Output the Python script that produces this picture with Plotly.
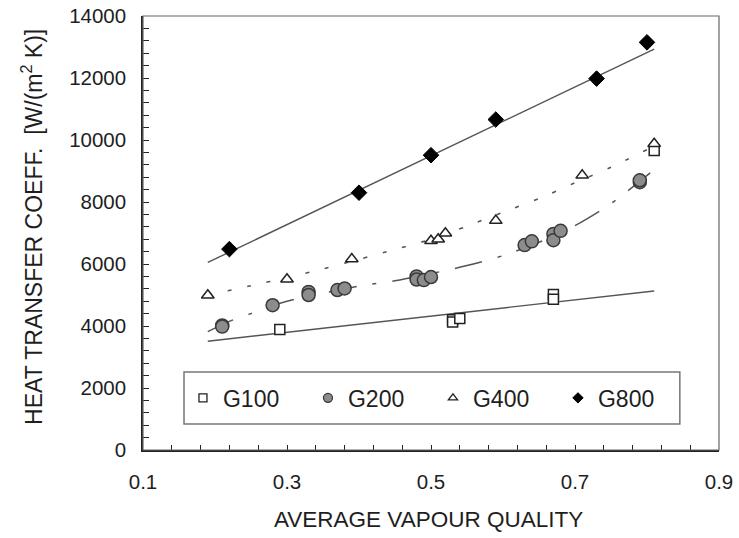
import plotly.graph_objects as go

# ---------------- data ----------------
g100_x = [0.29, 0.53, 0.53, 0.54, 0.67, 0.67, 0.81]
g100_y = [3890, 4200, 4130, 4240, 5020, 4860, 9660]

g200_x = [0.21, 0.21, 0.28, 0.33, 0.33, 0.37, 0.38, 0.48, 0.48, 0.49, 0.50,
          0.63, 0.64, 0.67, 0.67, 0.68, 0.79, 0.79]
g200_y = [4020, 3980, 4670, 5100, 5000, 5160, 5210, 5600, 5500, 5480, 5580,
          6610, 6730, 6970, 6770, 7070, 8640, 8700]

g400_x = [0.19, 0.30, 0.39, 0.50, 0.51, 0.52, 0.59, 0.71, 0.81]
g400_y = [4990, 5510, 6160, 6750, 6800, 6990, 7400, 8860, 9880]

g800_x = [0.22, 0.40, 0.50, 0.59, 0.73, 0.80]
g800_y = [6480, 8300, 9510, 10660, 11980, 13150]

# fitted curves
fit100_x = [0.19, 0.81]
fit100_y = [3510, 5130]

fit800_x = [0.19, 0.81]
fit800_y = [6050, 12930]

fit200_x = [0.19, 0.22, 0.25, 0.28, 0.30, 0.35, 0.40, 0.45, 0.50, 0.55, 0.60,
            0.65, 0.70, 0.75, 0.805]
fit200_y = [3820, 4150, 4400, 4660, 4800, 5055, 5290, 5460, 5690, 5950, 6270,
            6700, 7240, 7950, 8950]

fit400_x = [0.19, 0.25, 0.30, 0.35, 0.40, 0.45, 0.50, 0.55, 0.60, 0.65, 0.70,
            0.75, 0.80]
fit400_y = [5000, 5300, 5560, 5840, 6150, 6470, 6800, 7220, 7670, 8110, 8620,
            9120, 9690]

series_names = ["G100", "G200", "G400", "G800"]
x_tickvals = [0.1, 0.3, 0.5, 0.7, 0.9]
x_ticktext = ["0.1", "0.3", "0.5", "0.7", "0.9"]
y_tickvals = [0, 2000, 4000, 6000, 8000, 10000, 12000, 14000]
y_ticktext = ["0", "2000", "4000", "6000", "8000", "10000", "12000", "14000"]

FONT = "Liberation Sans, Arial, sans-serif"
TXT = "#1e1e1e"
LINE = "#555555"

fig = go.Figure()

# fit lines
fig.add_trace(go.Scatter(x=fit800_x, y=fit800_y, mode="lines",
                         line=dict(color=LINE, width=1.4), showlegend=False, hoverinfo="skip"))
fig.add_trace(go.Scatter(x=fit100_x, y=fit100_y, mode="lines",
                         line=dict(color=LINE, width=1.4), showlegend=False, hoverinfo="skip"))
fig.add_trace(go.Scatter(x=fit400_x, y=fit400_y, mode="lines",
                         line=dict(color=LINE, width=1.6, dash="4px,16px", shape="spline", smoothing=0.8),
                         showlegend=False, hoverinfo="skip"))
fig.add_trace(go.Scatter(x=fit200_x, y=fit200_y, mode="lines",
                         line=dict(color=LINE, width=1.5, dash="28px,16px,4px,16px", shape="spline", smoothing=0.8),
                         showlegend=False, hoverinfo="skip"))

# data markers
m100 = dict(symbol="square", size=10, color="white", line=dict(color="#222", width=1.5))
m200 = dict(symbol="circle", size=13, color="#8c8c8c", line=dict(color="#3a3a3a", width=1.5))
m400 = dict(symbol="triangle-up", size=11, color="white", line=dict(color="#222", width=1.5))
m800 = dict(symbol="diamond", size=12, color="black", line=dict(color="black", width=1))

fig.add_trace(go.Scatter(x=g100_x, y=g100_y, mode="markers", marker=m100, showlegend=False))
fig.add_trace(go.Scatter(x=g200_x, y=g200_y, mode="markers", marker=m200, showlegend=False))
fig.add_trace(go.Scatter(x=g400_x, y=g400_y, mode="markers", marker=m400, showlegend=False))
fig.add_trace(go.Scatter(x=g800_x, y=g800_y, mode="markers", marker=m800, showlegend=False))

# legend entries (small symbols as in the reference)
leg_markers = [
    dict(symbol="square", size=8, color="white", line=dict(color="#222", width=1.3)),
    dict(symbol="circle", size=9, color="#8c8c8c", line=dict(color="#3a3a3a", width=1.3)),
    dict(symbol="triangle-up", size=8, color="white", line=dict(color="#222", width=1.3)),
    dict(symbol="diamond", size=8, color="black", line=dict(color="black", width=1)),
]
for name, mk in zip(series_names, leg_markers):
    fig.add_trace(go.Scatter(x=[None], y=[None], mode="markers", marker=mk, name=name,
                             showlegend=True))

# plot area: x 143..719, y 16..450 px
fig.update_layout(
    template="none",
    width=739, height=538,
    margin=dict(l=143, r=20, t=16, b=88, pad=0, autoexpand=False),
    paper_bgcolor="white", plot_bgcolor="white",
    font=dict(family=FONT, color=TXT, size=20.5),
    showlegend=True,
    legend=dict(orientation="h", x=0.0694, xanchor="left", y=0.12, yanchor="middle",
                bgcolor="rgba(0,0,0,0)", borderwidth=0, entrywidth=80,
                entrywidthmode="pixels", font=dict(size=23, color=TXT, family=FONT),
                itemclick=False),
    xaxis=dict(range=[0.1, 0.9], tickvals=x_tickvals, ticktext=x_ticktext, automargin=False,
               showgrid=False, zeroline=False, showline=True, linecolor="#222", linewidth=1.5,
               ticks="inside", ticklen=5, tickwidth=1.3, tickcolor="#222",
               minor=dict(tick0=0.1, dtick=0.04, ticks="inside", ticklen=5, tickwidth=1.3,
                          tickcolor="#222", showgrid=False),
               tickfont=dict(size=20.5, color=TXT, family=FONT), ticklabelstandoff=13),
    yaxis=dict(range=[0, 14000], tickvals=y_tickvals, ticktext=y_ticktext, automargin=False,
               showgrid=False, zeroline=False, showline=True, linecolor="#222", linewidth=1.5,
               ticks="inside", ticklen=6, tickwidth=1.3, tickcolor="#222",
               minor=dict(tick0=0, dtick=400, ticks="inside", ticklen=6, tickwidth=1.3,
                          tickcolor="#222", showgrid=False),
               tickfont=dict(size=20.5, color=TXT, family=FONT), ticklabelstandoff=11),
    shapes=[
        # top/right frame
        dict(type="rect", xref="paper", yref="paper", x0=0, x1=1, y0=0, y1=1,
             line=dict(color="#666", width=1.2), fillcolor="rgba(0,0,0,0)", layer="above"),
        # legend box
        dict(type="rect", xref="paper", yref="paper", x0=0.0712, x1=0.932, y0=0.0599, y1=0.1797,
             line=dict(color="#777", width=1.5), fillcolor="white", layer="below"),
    ],
    annotations=[
        dict(text="AVERAGE VAPOUR QUALITY", xref="paper", yref="paper", x=0.4965, y=-0.161,
             xanchor="center", yanchor="middle", showarrow=False,
             font=dict(size=22.5, color=TXT, family=FONT)),
        dict(text="HEAT TRANSFER COEFF.&nbsp; [W/(m<sup>2</sup> K)]", xref="paper", yref="paper",
             x=-0.1927, y=0.514, xanchor="center", yanchor="middle", textangle=-90,
             showarrow=False, font=dict(size=23, color=TXT, family=FONT)),
    ],
)

fig.write_html("out.html", config={"displayModeBar": False},
               post_script="document.body.style.margin='0';document.body.style.padding='0';")
